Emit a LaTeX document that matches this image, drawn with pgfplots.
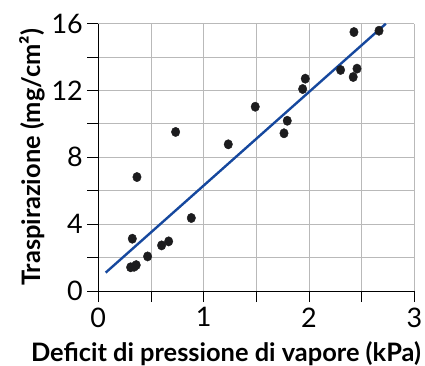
\documentclass[border=0pt]{standalone}
\usepackage{pgfplots}
\pgfplotsset{compat=1.18}
\usepackage{fontspec}
\setmainfont{Lato}
\definecolor{fitblue}{RGB}{22,72,158}
\definecolor{gridgray}{RGB}{185,185,185}
\definecolor{dotblack}{RGB}{28,28,30}
\begin{document}
\begin{tikzpicture}
\begin{axis}[
  scale only axis,
  width=316bp, height=267.3bp,
  xmin=0, xmax=3, ymin=0, ymax=16,
  enlargelimits=false,
  axis x line*=bottom, axis y line*=left,
  axis line style={-, black, line width=0.9bp},
  xtick={0,0.5,...,3}, xticklabels={0,,1,,2,,3},
  ytick={0,2,...,16}, yticklabels={0,,4,,8,,12,,16},
  tick align=outside,
  major tick length=11bp,
  tick style={black, line width=0.9bp},
  grid=major,
  grid style={gridgray, line width=0.9bp},
  /pgf/number format/assume math mode=true,
  ticklabel style={font=\fontsize{27}{27}\selectfont},
  xticklabel style={yshift=-2bp},
  yticklabel style={xshift=-1bp},
  xlabel={\bfseries Deficit di pressione di vapore (kPa)},
  ylabel={\bfseries Traspirazione (mg/cm²)},
  label style={font=\fontsize{25.5}{25.5}\selectfont},
  x label style={at={(axis description cs:0.404,0)}, anchor=base, yshift=-70bp},
  y label style={at={(axis description cs:0,0.5)}, anchor=base, yshift=58bp},
  clip=false,
]
\addplot[only marks, mark=*, mark size=4.7bp, mark options={xscale=0.9, fill=dotblack, draw=dotblack}] coordinates {
(2.427,15.50) (2.665,15.58) (2.30,13.23) (2.456,13.31) (2.42,12.81)
(1.965,12.71) (1.94,12.09) (1.49,11.03) (1.794,10.19) (1.763,9.44)
(0.734,9.52) (1.234,8.78) (0.367,6.82) (0.883,4.37) (0.323,3.13)
(0.668,2.97) (0.601,2.73) (0.468,2.07) (0.307,1.42) (0.34,1.45) (0.36,1.55)
};
\addplot[fitblue, line width=2.4bp] coordinates {(0.07,1.10) (2.73,16.0)};
\end{axis}
\pgfresetboundingbox
\useasboundingbox (-98.3bp,-75bp) rectangle (326.7bp,291bp);
\end{tikzpicture}
\end{document}
